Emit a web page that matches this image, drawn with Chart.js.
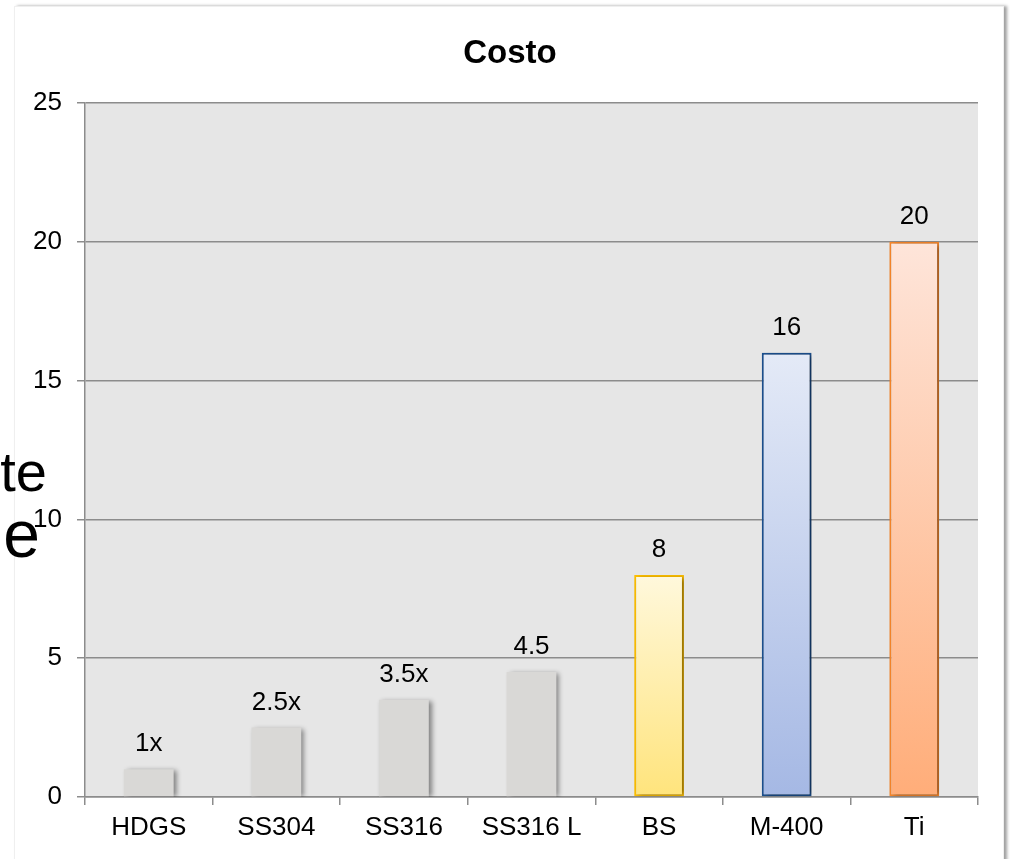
<!DOCTYPE html>
<html>
<head>
<meta charset="utf-8">
<script src="https://cdn.jsdelivr.net/npm/chart.js@4/dist/chart.umd.min.js"></script>
<style>
  html, body { margin: 0; padding: 0; background: #fff; overflow: hidden; }
  #frame { position: absolute; left: 14px; top: 6px; width: 988px; height: 900px;
           border: 1px solid #efefef; box-shadow: 3px 0 3px #a0a0a0; background: #fff; }
  #wrap { position: absolute; left: 0; top: 0; width: 1010px; height: 859px; }
  .slide { position: absolute; font-family: 'Liberation Sans', Arial, sans-serif;
           color: #000; white-space: nowrap; text-align: right; line-height: 1; }
</style>
</head>
<body>
<div id="frame"></div>
<div id="wrap"><canvas id="costChart" width="1010" height="859"></canvas></div>
<div class="slide" style="right:963px; top:444px; font-size:56px;">te</div>
<div class="slide" style="right:970px; top:501px; font-size:66px;">e</div>
<script>
// dati
const categories = ['HDGS', 'SS304', 'SS316', 'SS316 L', 'BS', 'M-400', 'Ti'];
const costValues = [1, 2.5, 3.5, 4.5, 8, 16, 20];
const valueLabels = ['1x', '2.5x', '3.5x', '4.5', '8', '16', '20'];
const yMax = 25;
const yStep = 5;
const chartTitle = 'Costo';

// stili delle barre (grigio pieno oppure gradiente alto -> basso)
const fillStops = ['#d9d8d6', '#d9d8d6', '#d9d8d6', '#d9d8d6',
  ['#fff8dc', '#ffe47c'], ['#e4eaf7', '#a5b8e4'], ['#fee5da', '#ffad79']];
const borderCols = ['#d9d8d6', '#d9d8d6', '#d9d8d6', '#d9d8d6', '#ffc000', '#1b4f8e', '#f7862a'];
const borderW = [0, 0, 0, 0, 2, 2, 2];

const FONT = "'Liberation Sans', Arial, sans-serif";
Chart.defaults.font.family = FONT;
Chart.defaults.color = '#000';

const plotBg = {
  id: 'plotBg',
  beforeDraw(chart) {
    const { ctx, chartArea: a } = chart;
    ctx.save();
    ctx.fillStyle = '#e6e6e6';
    ctx.fillRect(a.left, a.top, a.right - a.left, a.bottom - a.top);
    ctx.restore();
  },
  afterDraw(chart) {
    // titolo centrato sulla cornice, non sull'area del grafico
    const ctx = chart.ctx;
    ctx.save();
    ctx.font = 'bold 33px ' + FONT;
    ctx.fillStyle = '#000';
    ctx.textAlign = 'center';
    ctx.textBaseline = 'alphabetic';
    ctx.fillText(chartTitle, 510, 63);
    ctx.restore();
  }
};

const barShadowAndLabels = {
  id: 'barShadowAndLabels',
  beforeDatasetsDraw(chart) {
    const ctx = chart.ctx;
    ctx.save();
    ctx.shadowColor = 'rgba(0,0,0,0.45)';
    ctx.shadowBlur = 5;
    ctx.shadowOffsetX = 3;
    ctx.shadowOffsetY = 1;
  },
  afterDatasetsDraw(chart) {
    const ctx = chart.ctx;
    ctx.restore();
    ctx.save();
    ctx.font = '26px ' + FONT;
    ctx.fillStyle = '#000';
    ctx.textAlign = 'center';
    ctx.textBaseline = 'alphabetic';
    chart.getDatasetMeta(0).data.forEach((bar, i) => {
      ctx.fillText(valueLabels[i], bar.x, bar.y - 18);
    });
    ctx.restore();
  }
};

new Chart(document.getElementById('costChart'), {
  type: 'bar',
  data: {
    labels: categories,
    datasets: [{
      label: chartTitle,
      data: costValues,
      backgroundColor: (c) => {
        const f = fillStops[c.dataIndex];
        if (typeof f === 'string') return f;
        const chart = c.chart;
        if (!chart.chartArea || c.raw === undefined) return f[1];
        const ys = chart.scales.y;
        const top = ys.getPixelForValue(c.raw);
        const bot = ys.getPixelForValue(0);
        const g = chart.ctx.createLinearGradient(0, top, 0, bot);
        g.addColorStop(0, f[0]);
        g.addColorStop(1, f[1]);
        return g;
      },
      borderColor: borderCols,
      borderWidth: borderW,
      borderSkipped: false,
      barPercentage: 0.39,
      categoryPercentage: 1
    }]
  },
  options: {
    responsive: false,
    animation: false,
    layout: { padding: { left: 0, right: 32, top: 103, bottom: 0 } },
    plugins: {
      legend: { display: false },
      tooltip: { enabled: false },
      title: { display: false }
    },
    scales: {
      x: {
        offset: true,
        grid: { drawOnChartArea: false, drawTicks: true, tickLength: 8, color: '#8c8c8c', lineWidth: 1.5, offset: true },
        border: { display: true, color: '#8c8c8c', width: 1.5 },
        ticks: { font: { size: 26 }, color: '#000', padding: 7, maxRotation: 0 },
        afterFit: (s) => { s.height = 62; }
      },
      y: {
        min: 0,
        max: yMax,
        grid: { color: '#8c8c8c', lineWidth: 1.5, tickLength: 8 },
        border: { display: true, color: '#8c8c8c', width: 1.5 },
        ticks: { stepSize: yStep, font: { size: 26 }, color: '#000', padding: 15 },
        afterFit: (s) => { s.width = 85; }
      }
    }
  },
  plugins: [plotBg, barShadowAndLabels]
});
</script>
</body>
</html>
